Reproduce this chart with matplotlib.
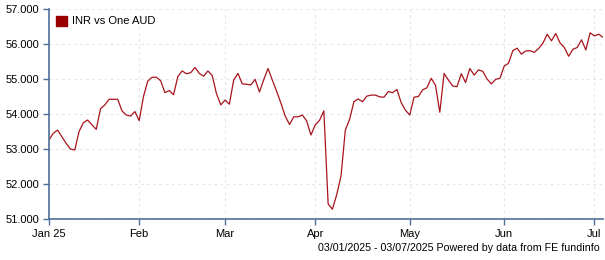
import numpy as np
import matplotlib.pyplot as plt
from matplotlib.patches import Patch

# INR per one AUD, one value per trading day, 03/01/2025 - 03/07/2025
jan_values = [53.26, 53.45, 53.54, 53.35, 53.16, 53.00, 52.97, 53.50, 53.75, 53.83,
              53.69, 53.56, 54.15, 54.26, 54.42, 54.42, 54.42, 54.09, 53.97, 53.94,
              54.07]
feb_values = [53.81, 54.50, 54.94, 55.05, 55.05, 54.95, 54.61, 54.67, 54.55, 55.07,
              55.23, 55.15, 55.18, 55.33, 55.16, 55.08, 55.23, 55.10, 54.58, 54.26]
mar_values = [54.40, 54.28, 54.97, 55.16, 54.86, 54.85, 54.83, 54.99, 54.63, 54.98,
              55.30, 54.97, 54.65, 54.31, 53.94, 53.70, 53.92, 53.92, 53.97, 53.80,
              53.40]
apr_values = [53.69, 53.82, 54.09, 51.43, 51.28, 51.70, 52.23, 53.54, 53.85, 54.35,
              54.43, 54.35, 54.51, 54.54, 54.54, 54.49, 54.48, 54.64, 54.61, 54.70,
              54.33, 54.11]
may_values = [53.97, 54.48, 54.50, 54.69, 54.75, 55.02, 54.82, 54.05, 55.16, 54.97,
              54.80, 54.78, 55.15, 54.90, 55.30, 55.11, 55.26, 55.22, 55.00, 54.86,
              54.99, 55.02]
jun_values = [55.37, 55.45, 55.81, 55.88, 55.71, 55.80, 55.81, 55.76, 55.87, 56.02,
              56.28, 56.09, 56.30, 56.03, 55.90, 55.65, 55.85, 55.90, 56.12, 55.83,
              56.32]
jul_values = [56.23, 56.28, 56.19]

month_labels = ["Jan 25", "Feb", "Mar", "Apr", "May", "Jun", "Jul"]
series_label = "INR vs One AUD"
footer = "03/01/2025 - 03/07/2025 Powered by data from FE fundinfo"

months = [jan_values, feb_values, mar_values, apr_values, may_values, jun_values, jul_values]
values = np.concatenate(months)
x = np.arange(len(values))
month_starts = np.cumsum([0] + [len(m) for m in months[:-1]])

LINE = "#a8141c"
AXIS = "#4f6f98"
GRID = "#e6e6e6"

plt.rcParams["font.family"] = ["Liberation Sans", "DejaVu Sans"]
plt.rcParams["font.size"] = 8

fig = plt.figure(figsize=(6.05, 2.6), dpi=100)
ax = fig.add_axes([49 / 605, 1 - 219 / 260, 554 / 605, 210 / 260])

ax.plot(x, values, color=LINE, lw=0.9)

ax.set_xlim(0, len(values) - 1)
ax.set_ylim(51, 57)
ax.set_yticks(np.arange(51, 58, 1))
ax.set_yticklabels([f"{v:.3f}" for v in np.arange(51, 58, 1)])
ax.set_xticks(month_starts)
ax.set_xticklabels(month_labels)

ax.grid(True, color=GRID, linestyle=(0, (2.5, 3)), lw=0.8)
ax.set_axisbelow(True)
for side in ("top", "right"):
    ax.spines[side].set_visible(False)
for side in ("left", "bottom"):
    ax.spines[side].set_color(AXIS)
    ax.spines[side].set_linewidth(1.2)
ax.tick_params(axis="both", colors=AXIS, labelcolor="black", length=4, width=1, labelsize=8)
ax.tick_params(axis="y", pad=3)
ax.tick_params(axis="x", pad=3)

ax.legend(handles=[Patch(color="#990000", label=series_label)], loc="upper left",
          frameon=False, fontsize=8, handlelength=1.0, handleheight=1.0,
          handletextpad=0.5, borderaxespad=0.2)

fig.text(600 / 605, 1 - 248 / 260, footer, ha="right", va="center", fontsize=7.7)

fig.savefig("out.png", dpi=100)
